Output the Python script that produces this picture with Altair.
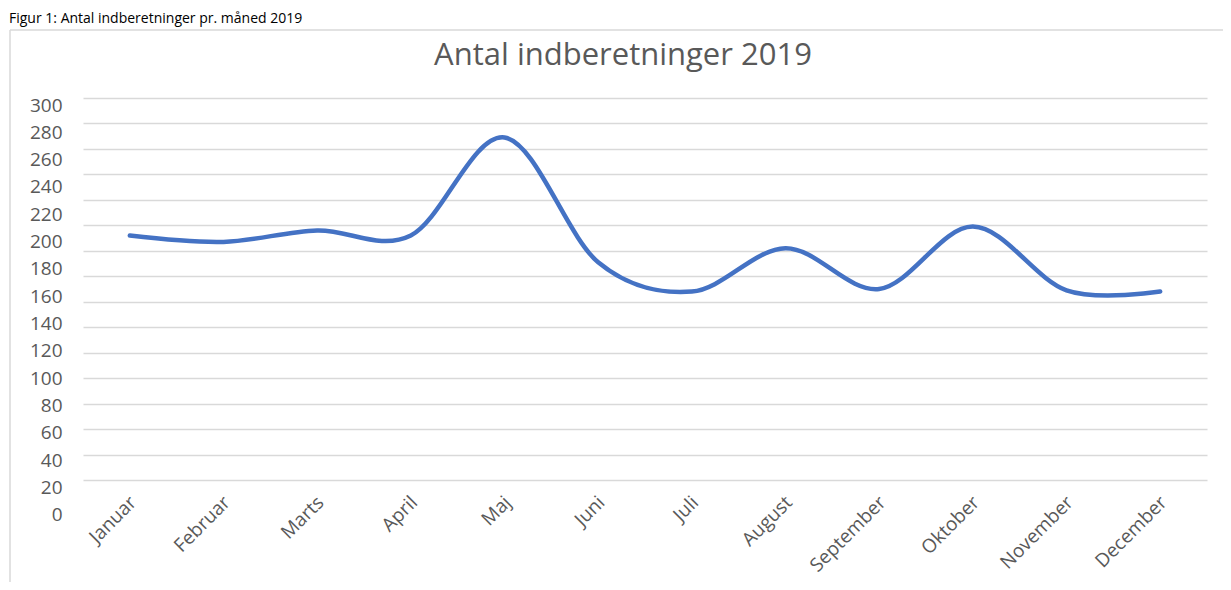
import altair as alt
import pandas as pd

months = ["Januar", "Februar", "Marts", "April", "Maj", "Juni", "Juli",
          "August", "September", "Oktober", "November", "December"]
values = [192, 187, 196, 192, 269, 171, 148, 182, 150, 199, 149, 148]
y_ticks = list(range(0, 301, 20))
chart_title = "Antal indberetninger 2019"
caption = "Figur 1: Antal indberetninger pr. måned 2019"

FONT = "Open Sans"
GREY = "#595959"
GRID = "#d9d9d9"

df = pd.DataFrame({"month": months, "value": values})
one = pd.DataFrame({"k": [0]})

line = alt.Chart(df).mark_line(
    color="#4472C4", strokeWidth=4.5, interpolate="cardinal", strokeCap="round"
).encode(
    x=alt.X("month:N", sort=months,
            scale=alt.Scale(type="point", padding=0.5),
            axis=alt.Axis(title=None, labelAngle=-45, labelAlign="right",
                          labelBaseline="middle", ticks=False, domain=False,
                          grid=False, labelPadding=19, labelFont=FONT,
                          labelFontSize=19, labelColor=GREY,
                          labelOffset=3)),
    y=alt.Y("value:Q", scale=alt.Scale(domain=[0, 300], nice=False, zero=True),
            axis=alt.Axis(title=None, values=y_ticks, ticks=False, domain=False,
                          gridColor=GRID, gridWidth=1.5, labelPadding=21,
                          labelFont=FONT, labelFontSize=19, labelColor=GREY,
                          labelOffset={"expr": "7 + (300 - datum.value) * 0.0933"}))
)

border_top = alt.Chart(one).mark_rule(color=GRID, strokeWidth=1.5).encode(
    x=alt.value(-73), x2=alt.value(1200), y=alt.value(-68))
border_left = alt.Chart(one).mark_rule(color=GRID, strokeWidth=1.5).encode(
    x=alt.value(-73), y=alt.value(-68), y2=alt.value(520))

title_text = alt.Chart(one).mark_text(
    text=chart_title, font=FONT, fontSize=31, color=GREY,
    align="center", baseline="alphabetic"
).encode(x=alt.value(540), y=alt.value(-33))

caption_text = alt.Chart(one).mark_text(
    text=caption, font=FONT, fontSize=14, color="#000000",
    align="left", baseline="top"
).encode(x=alt.value(-74), y=alt.value(-86))

chart = alt.layer(border_top, border_left, caption_text, title_text, line).properties(
    width=1124, height=382,
    autosize=alt.AutoSizeParams(type="none"),
    padding={"left": 75, "top": 90, "right": 16, "bottom": 102},
).configure_view(stroke=None)

chart.save("out.html", embed_options={"renderer": "svg", "actions": False})
